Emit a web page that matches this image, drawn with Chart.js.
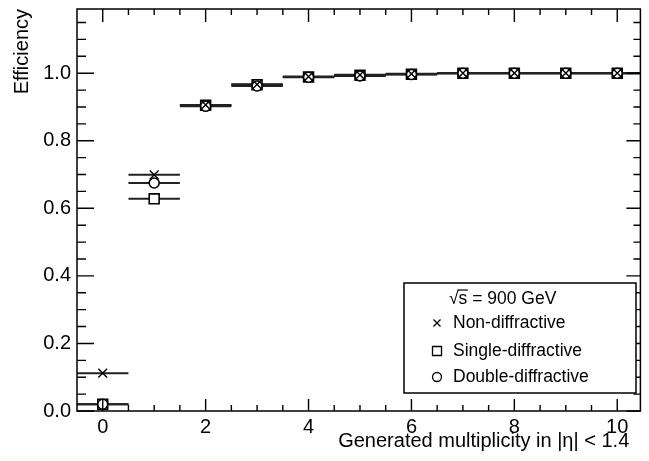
<!DOCTYPE html>
<html>
<head>
<meta charset="utf-8">
<script src="https://cdn.jsdelivr.net/npm/chart.js@4.4.0/dist/chart.umd.min.js"></script>
<style>
    html, body { margin: 0; padding: 0; background: #fff; }
    #wrap { width: 649px; height: 461px; }
</style>
</head>
<body>
<div id="wrap"><canvas id="effChart"></canvas></div>
<script>
// generated multiplicity bins (centres), each bin is 1 wide
const bins = [0, 1, 2, 3, 4, 5, 6, 7, 8, 9, 10];
const binHalfWidth = 0.5;

const nonDiff    = [0.112, 0.699, 0.906, 0.967, 0.990, 0.995, 0.998, 1.0, 1.0, 1.0, 1.0];
const singleDiff = [0.020, 0.628, 0.905, 0.966, 0.989, 0.994, 0.997, 1.0, 1.0, 1.0, 1.0];
const doubleDiff = [0.020, 0.675, 0.902, 0.962, 0.988, 0.992, 0.996, 1.0, 1.0, 1.0, 1.0];

const xTicks = [0, 2, 4, 6, 8, 10];
const yTicks = [0.0, 0.2, 0.4, 0.6, 0.8, 1.0];

const legendHeader = "\u221As = 900 GeV";
const legendLabels = ["Non-diffractive", "Single-diffractive", "Double-diffractive"];

const FONT = "'Liberation Sans', Arial, sans-serif";
Chart.defaults.font.family = FONT;
Chart.defaults.color = "#000";

function markers(values) {
    return bins.map((b, i) => ({ x: b, y: values[i] }));
}

// horizontal bars spanning each bin, broken between bins by a null point
function binBars(values) {
    const pts = [];
    bins.forEach((b, i) => {
        pts.push({ x: b - binHalfWidth, y: values[i] });
        pts.push({ x: b + binHalfWidth, y: values[i] });
        pts.push({ x: b + binHalfWidth, y: null });
    });
    return pts;
}

function barSet(values, order) {
    return {
        data: binBars(values),
        showLine: true,
        spanGaps: false,
        borderColor: "#222",
        borderWidth: 2,
        pointRadius: 0,
        order: order,
    };
}

function drawMarker(ctx, style, x, y, r) {
    ctx.beginPath();
    if (style === "cross") {
        ctx.moveTo(x - r, y - r); ctx.lineTo(x + r, y + r);
        ctx.moveTo(x + r, y - r); ctx.lineTo(x - r, y + r);
        ctx.stroke();
    } else if (style === "rect") {
        ctx.rect(x - r, y - r, 2 * r, 2 * r);
        ctx.fill(); ctx.stroke();
    } else {
        ctx.arc(x, y, r, 0, Math.PI * 2);
        ctx.fill(); ctx.stroke();
    }
}

// ROOT-like frame with inward ticks on all four sides
const framePlugin = {
    id: "frame",
    afterDraw(chart) {
        const { ctx, chartArea: a, scales: { x, y } } = chart;
        ctx.save();
        ctx.strokeStyle = "#000";
        ctx.lineWidth = 1.5;
        ctx.strokeRect(a.left, a.top, a.right - a.left, a.bottom - a.top);
        ctx.lineWidth = 1.4;
        ctx.beginPath();
        for (let v = 0; v <= 10.45; v += 0.5) {
            const px = x.getPixelForValue(v);
            const major = xTicks.includes(v);
            ctx.moveTo(px, a.bottom); ctx.lineTo(px, a.bottom - (major ? 12 : 6));
            ctx.moveTo(px, a.top); ctx.lineTo(px, a.top + (major ? 13 : 6));
        }
        for (let k = 0; k <= 23; k++) {
            const py = y.getPixelForValue(k * 0.05);
            const major = k % 4 === 0;
            ctx.moveTo(a.left, py); ctx.lineTo(a.left + (major ? 17 : 9), py);
            ctx.moveTo(a.right, py); ctx.lineTo(a.right - (major ? 14 : 7), py);
        }
        ctx.stroke();
        ctx.restore();
    },
};

const legendPlugin = {
    id: "boxLegend",
    afterDraw(chart) {
        const ctx = chart.ctx;
        const box = { left: 404, top: 283, right: 636, bottom: 393 };
        ctx.save();
        ctx.fillStyle = "#fff";
        ctx.strokeStyle = "#000";
        ctx.lineWidth = 1.5;
        ctx.fillRect(box.left, box.top, box.right - box.left, box.bottom - box.top);
        ctx.strokeRect(box.left, box.top, box.right - box.left, box.bottom - box.top);

        ctx.fillStyle = "#000";
        ctx.font = "17.5px " + FONT;
        ctx.textBaseline = "middle";
        ctx.textAlign = "left";
        const hx = 449, hy = 299;
        ctx.fillText(legendHeader, hx, hy);
        // overline across the radicand
        const rootW = ctx.measureText("\u221A").width;
        const sW = ctx.measureText("s").width;
        ctx.lineWidth = 1.2;
        ctx.beginPath();
        ctx.moveTo(hx + rootW - 1, hy - 9);
        ctx.lineTo(hx + rootW + sW + 0.5, hy - 9);
        ctx.stroke();

        const styles = ["cross", "rect", "circle"];
        const sizes = [3.5, 4.5, 4.5];
        const rows = [323, 351, 377];
        ctx.lineWidth = 1.3;
        styles.forEach((s, i) => {
            ctx.fillStyle = "#fff";
            drawMarker(ctx, s, 437, rows[i], sizes[i]);
            ctx.fillStyle = "#000";
            ctx.fillText(legendLabels[i], 453, rows[i]);
        });
        ctx.restore();
    },
};

new Chart(document.getElementById("effChart"), {
    type: "scatter",
    data: {
        datasets: [
            {
                label: legendLabels[0],
                data: markers(nonDiff),
                pointStyle: "crossRot",
                pointRadius: 6.2,
                borderColor: "#000",
                borderWidth: 1.4,
                order: 0,
            },
            {
                label: legendLabels[2],
                data: markers(doubleDiff),
                pointStyle: "circle",
                pointRadius: 5,
                backgroundColor: "#fff",
                borderColor: "#000",
                borderWidth: 1.6,
                order: 1,
            },
            {
                label: legendLabels[1],
                data: markers(singleDiff),
                pointStyle: "rect",
                pointRadius: 7,
                backgroundColor: "#fff",
                borderColor: "#000",
                borderWidth: 1.6,
                order: 2,
            },
            barSet(nonDiff, 3),
            barSet(singleDiff, 4),
            barSet(doubleDiff, 5),
        ],
    },
    options: {
        responsive: true,
        maintainAspectRatio: false,
        animation: false,
        layout: { padding: { top: 9, right: 8, left: 0, bottom: 0 } },
        plugins: {
            legend: { display: false },
            tooltip: { enabled: false },
        },
        scales: {
            x: {
                type: "linear",
                min: -0.5,
                max: 10.45,
                afterBuildTicks: (axis) => {
                    axis.ticks = xTicks.map((v) => ({ value: v }));
                },
                afterFit: (axis) => {
                    axis.height = 50;
                    axis.paddingLeft = 0;
                    axis.paddingRight = 0;
                },
                grid: { display: false, drawTicks: false },
                border: { display: false },
                ticks: { padding: 4, font: { size: 20 } },
                title: {
                    display: true,
                    text: "Generated multiplicity in |\u03B7| < 1.4  ",
                    align: "end",
                    padding: { top: 0, bottom: 8 },
                    font: { size: 20 },
                },
            },
            y: {
                type: "linear",
                min: 0,
                max: 1.19,
                afterBuildTicks: (axis) => {
                    axis.ticks = yTicks.map((v) => ({ value: v }));
                },
                afterFit: (axis) => {
                    axis.width = 77;
                    axis.paddingTop = 0;
                    axis.paddingBottom = 0;
                },
                grid: { display: false, drawTicks: false },
                border: { display: false },
                ticks: {
                    padding: 6,
                    font: { size: 20 },
                    callback: (v) => Number(v).toFixed(1),
                },
                title: {
                    display: true,
                    text: "Efficiency",
                    align: "end",
                    padding: { top: 10, bottom: 0 },
                    font: { size: 20 },
                },
            },
        },
    },
    plugins: [framePlugin, legendPlugin],
});
</script>
</body>
</html>
